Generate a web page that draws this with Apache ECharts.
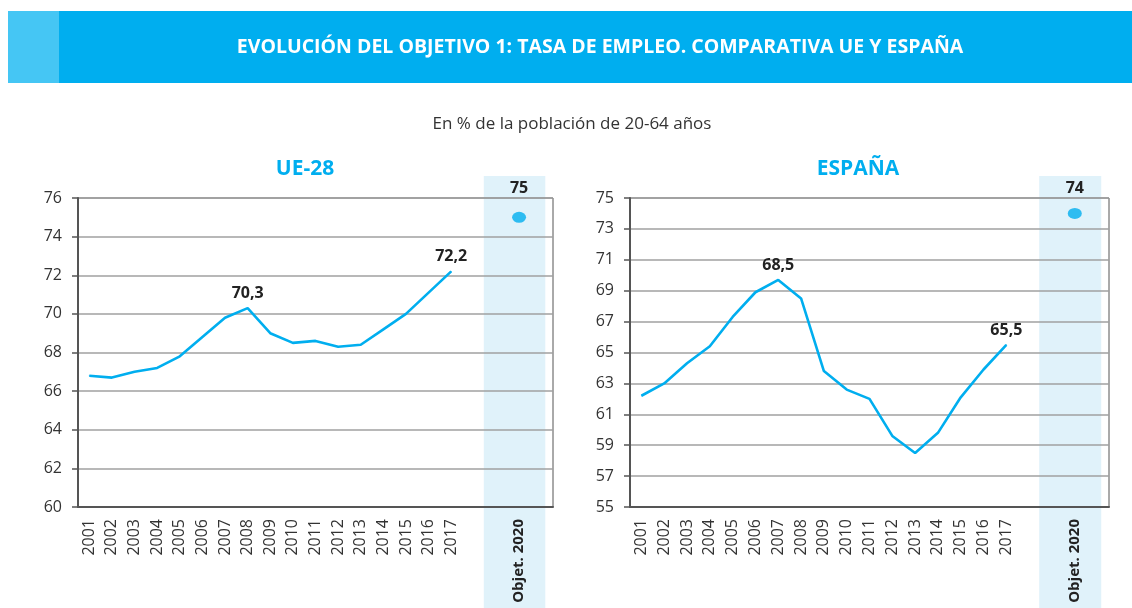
<!DOCTYPE html>
<html lang="es">
<head>
    <meta charset="UTF-8">
    <title>Evolución del objetivo 1: tasa de empleo</title>
    <script src="https://cdn.jsdelivr.net/npm/echarts@6/dist/echarts.min.js"></script>
    <style>
        html, body { margin: 0; padding: 0; background: #fff; }
        #main { width: 1132px; height: 608px; }
    </style>
</head>
<body>
<div id="main"></div>
<script>
    // datos
    var years = ['2001', '2002', '2003', '2004', '2005', '2006', '2007', '2008', '2009',
        '2010', '2011', '2012', '2013', '2014', '2015', '2016', '2017'];
    var targetName = 'Objet. 2020';

    var ueValues = [66.8, 66.7, 67.0, 67.2, 67.8, 68.8, 69.8, 70.3, 69.0,
        68.5, 68.6, 68.3, 68.4, 69.2, 70.0, 71.1, 72.2];
    var esValues = [62.2, 63.0, 64.3, 65.4, 67.3, 68.9, 69.7, 68.5, 63.8,
        62.6, 62.0, 59.6, 58.5, 59.8, 62.1, 63.9, 65.5];

    var ueTarget = 75;
    var esTarget = 74;

    // anotaciones sobre la linea: [año, texto]
    var ueNotes = [['2008', '70,3'], ['2017', '72,2']];
    var esNotes = [['2007', '68,5'], ['2017', '65,5']];

    var ueTicks = [60, 62, 64, 66, 68, 70, 72, 74, 76];
    var esTicks = [55, 57, 59, 61, 63, 65, 67, 69, 71, 73, 75];

    var blue = '#00AEEF';
    var font = 'Open Sans';
    var cats = years.concat(['', '', targetName, '']);

    function lineData(values, notes) {
        return values.map(function (v, i) {
            var n = notes.filter(function (p) { return p[0] === years[i]; })[0];
            if (!n) return v;
            return {value: v, label: {show: true, formatter: n[1]}};
        });
    }

    function xAxis(g) {
        return {
            type: 'category', gridIndex: g, data: cats, boundaryGap: true,
            axisLine: {lineStyle: {color: '#555', width: 2}},
            axisTick: {show: false},
            axisLabel: {
                interval: 0, rotate: 90, margin: 12, fontSize: 16, color: '#333', fontFamily: font,
                formatter: function (v) { return v === targetName ? '{b|' + v + '}' : v; },
                rich: {b: {fontWeight: 'bold', fontSize: 15, color: '#222', fontFamily: font}}
            }
        };
    }

    function yAxis(g, ticks) {
        return {
            type: 'value', gridIndex: g, min: ticks[0], max: ticks[ticks.length - 1], interval: 1,
            axisLine: {show: true, lineStyle: {color: '#555', width: 2}},
            axisTick: {show: true, length: 6, lineStyle: {color: '#555', width: 1.5}, customValues: ticks},
            axisLabel: {margin: 16, fontSize: 16, color: '#333', fontFamily: font, customValues: ticks},
            splitLine: {lineStyle: {color: '#A0A0A0', width: 1.6}}
        };
    }

    function lineSeries(g, values, notes) {
        return {
            type: 'line', xAxisIndex: g, yAxisIndex: g,
            data: lineData(values, notes),
            symbol: 'circle', symbolSize: 1, showSymbol: true,
            itemStyle: {color: blue},
            lineStyle: {color: blue, width: 2.6},
            label: {show: false, position: 'top', distance: 6, fontSize: 16, fontWeight: 'bold',
                color: '#222', fontFamily: font},
            z: 5
        };
    }

    function targetSeries(g, value) {
        return {
            type: 'scatter', xAxisIndex: g, yAxisIndex: g,
            data: [[targetName, value]],
            symbol: 'circle', symbolSize: [14, 11],
            itemStyle: {color: blue},
            z: 5
        };
    }

    var chart = echarts.init(document.getElementById('main'));

    var option = {
        animation: false,
        grid: [
            {left: 78, right: 579, top: 198, bottom: 101, show: true, borderColor: '#555', borderWidth: 1},
            {left: 630, right: 23, top: 198, bottom: 101, show: true, borderColor: '#555', borderWidth: 1}
        ],
        xAxis: [xAxis(0), xAxis(1)],
        yAxis: [yAxis(0, ueTicks), yAxis(1, esTicks)],
        series: [
            lineSeries(0, ueValues, ueNotes),
            targetSeries(0, ueTarget),
            lineSeries(1, esValues, esNotes),
            targetSeries(1, esTarget)
        ]
    };
    chart.setOption(option);

    // banda del objetivo 2020 y textos fijos
    var graphics = [
        {type: 'rect', shape: {x: 8, y: 11, width: 1124, height: 72}, style: {fill: '#00AEEF'}, z: 1},
        {type: 'rect', shape: {x: 8, y: 11, width: 51, height: 72}, style: {fill: '#45C6F4'}, z: 1},
        {type: 'text', x: 600, y: 47, z: 2, style: {
            text: 'EVOLUCIÓN DEL OBJETIVO 1: TASA DE EMPLEO. COMPARATIVA UE Y ESPAÑA',
            fill: '#fff', font: 'bold 19.5px "Open Sans"', textAlign: 'center', textVerticalAlign: 'middle'}},
        {type: 'text', x: 572, y: 124, style: {
            text: 'En % de la población de 20-64 años',
            fill: '#333', font: '17px "Open Sans"', textAlign: 'center', textVerticalAlign: 'middle'}},
        {type: 'text', x: 305, y: 169, style: {
            text: 'UE-28', fill: blue, font: 'bold 21px "Open Sans"', textAlign: 'center', textVerticalAlign: 'middle'}},
        {type: 'text', x: 858, y: 169, style: {
            text: 'ESPAÑA', fill: blue, font: 'bold 21px "Open Sans"', textAlign: 'center', textVerticalAlign: 'middle'}}
    ];

    [[0, ueTarget], [1, esTarget]].forEach(function (t) {
        var g = t[0];
        var c = chart.convertToPixel({xAxisIndex: g}, targetName);
        var rect = chart.getModel().getComponent('grid', g).coordinateSystem.getRect();
        var step = rect.width / cats.length;
        var x0 = c - 1.56 * step;
        var x1 = c + 1.16 * step;
        graphics.push({type: 'rect', z: -1, silent: true,
            shape: {x: x0, y: 176, width: x1 - x0, height: 608 - 176},
            style: {fill: '#E0F2FA'}});
        graphics.push({type: 'text', x: c, y: 188, z: 3, style: {
            text: String(t[1]), fill: '#222', font: 'bold 16px "Open Sans"',
            textAlign: 'center', textVerticalAlign: 'middle'}});
    });

    chart.setOption({graphic: graphics});
</script>
</body>
</html>
